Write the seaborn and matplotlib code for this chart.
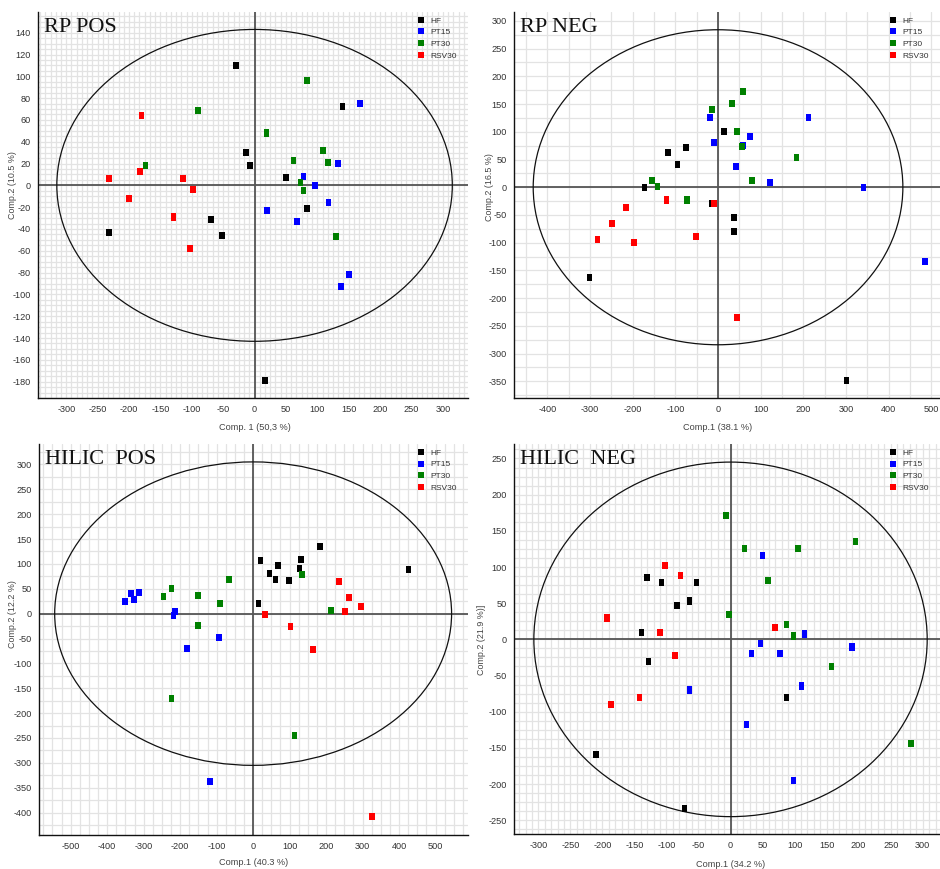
import numpy as np
import pandas as pd
import matplotlib
matplotlib.use("Agg")
import matplotlib.pyplot as plt
from matplotlib.patches import Ellipse
from matplotlib.lines import Line2D
from matplotlib.ticker import MultipleLocator
from matplotlib.transforms import blended_transform_factory
import seaborn as sns

groups = ["HF", "PT15", "PT30", "RSV30"]
group_colors = ["#000000", "#0000ff", "#008000", "#ff0000"]

# ---- RP POS score values (Comp.1, Comp.2) ----
rp_pos_hf_x = [-30, -14, -7.5, 50, 140, 83, -69, -52, -232, 17]
rp_pos_hf_y = [110, 30, 18, 7, 72, -21, -31, -46, -43, -179]
rp_pos_pt15_x = [168, 133, 78, 96, 118, 20, 68, 150, 138]
rp_pos_pt15_y = [75, 20, 8.5, 0.3, -16, -23, -33, -82, -93]
rp_pos_pt30_x = [-90, -174, 84, 19, 109, 62, 117, 73, 78, 130]
rp_pos_pt30_y = [69, 18.6, 96, 48, 32, 23, 21, 2.4, -5, -47]
rp_pos_rsv30_x = [-180, -182, -232, -114, -98, -200, -129, -103]
rp_pos_rsv30_y = [64, 13, 6, 6, -4, -12, -29, -58]

# ---- RP NEG score values ----
rp_neg_hf_x = [-118, -75, -95, -172, -301, 14, -14, 38, 38, 301]
rp_neg_hf_y = [63, 72, 41, -1, -162, 101, -30, -55, -80, -348]
rp_neg_pt15_x = [-19, 212, 75, -9, 59, 42, 122, 341, 485]
rp_neg_pt15_y = [125, 126, 92, 80, 75, 37, 8, -1, -134]
rp_neg_pt30_x = [-155, -142, -72, 59, 32, -14, 45, 56, 184, 80]
rp_neg_pt30_y = [12, 0.6, -23, 173, 151, 140, 101, 74, 53, 13]
rp_neg_rsv30_x = [-121, -215, -248, -282, -197, -52, -9, 45]
rp_neg_rsv30_y = [-23, -37, -65, -94, -100, -89, -29, -235]

# ---- HILIC POS score values ----
hilic_pos_hf_x = [20, 69, 44.5, 61, 99, 132, 127, 184, 426, 14.5]
hilic_pos_hf_y = [107, 97, 81, 69, 67, 109, 91, 135, 89, 21]
hilic_pos_pt15_x = [-352, -335, -327, -313, -215, -218, -94, -182, -118]
hilic_pos_pt15_y = [25, 41, 28, 43, 5, -4, -48, -70, -337]
hilic_pos_pt30_x = [-246, -224, -152, -152, -91, -66, -224, 134.5, 214, 113]
hilic_pos_pt30_y = [35, 51, 37, -23, 21, 69, -170, 79, 7, -245]
hilic_pos_rsv30_x = [32, 235, 263, 295, 252, 102, 164.5, 325]
hilic_pos_rsv30_y = [-1, 65, 33, 15, 4, -25, -72, -407]

# ---- HILIC NEG score values ----
hilic_neg_hf_x = [-130, -108, -53, -84, -64, -139, -128, -210, -72, 87.5]
hilic_neg_hf_y = [85, 79, 78, 47, 53, 9, -30, -158.5, -234, -80]
hilic_neg_pt15_x = [-64, 50, 115.5, 47, 33, 77, 190, 111, 25, 98.4]
hilic_neg_pt15_y = [-70, 116, 7.4, -5.5, -20, -19, -10.6, -64.5, -118, -194.5]
hilic_neg_pt30_x = [-7, 195, 22, 105, 58, -2.6, 87.5, 98.4, 157.5, 282]
hilic_neg_pt30_y = [171, 135.5, 125, 125, 81, 34, 20, 4.6, -38, -144]
hilic_neg_rsv30_x = [-102, -78, -193, -110, -87, -142, -187, 69]
hilic_neg_rsv30_y = [102, 88, 29.5, 10, -22, -80, -90, 17]

# Hotelling T2 (95 %) ellipse semi-axes per model
rp_pos_t2 = [315, 143]
rp_neg_t2 = [433, 284]
hilic_pos_t2 = [544, 305]
hilic_neg_t2 = [307, 245]


def scores_frame(series):
    rows = []
    for g, (xs, ys) in zip(groups, series):
        for x, y in zip(xs, ys):
            rows.append({"t1": x, "t2": y, "group": g})
    return pd.DataFrame(rows)


panels = [
    dict(title="RP POS",
         df=scores_frame([(rp_pos_hf_x, rp_pos_hf_y), (rp_pos_pt15_x, rp_pos_pt15_y),
                          (rp_pos_pt30_x, rp_pos_pt30_y), (rp_pos_rsv30_x, rp_pos_rsv30_y)]),
         t2=rp_pos_t2, xlabel="Comp. 1 (50,3 %)", ylabel="Comp.2 (10.5 %)",
         rect=[38, 12, 468, 398], xlim=(-345, 340), ylim=(-195, 159),
         xmaj=50, xmin=25, ymaj=20, ymin=10, xgrid=50 / 6, ygrid=5,
         ylab_px=17, xlab_px=423),
    dict(title="RP NEG",
         df=scores_frame([(rp_neg_hf_x, rp_neg_hf_y), (rp_neg_pt15_x, rp_neg_pt15_y),
                          (rp_neg_pt30_x, rp_neg_pt30_y), (rp_neg_rsv30_x, rp_neg_rsv30_y)]),
         t2=rp_neg_t2, xlabel="Comp.1 (38.1 %)", ylabel="Comp.2 (16.5 %)",
         rect=[514, 12, 940, 398], xlim=(-478, 520), ylim=(-380, 316),
         xmaj=100, xmin=50, ymaj=50, ymin=25, xgrid=50, ygrid=25,
         ylab_px=494, xlab_px=423),
    dict(title="HILIC  POS",
         df=scores_frame([(hilic_pos_hf_x, hilic_pos_hf_y), (hilic_pos_pt15_x, hilic_pos_pt15_y),
                          (hilic_pos_pt30_x, hilic_pos_pt30_y), (hilic_pos_rsv30_x, hilic_pos_rsv30_y)]),
         t2=hilic_pos_t2, xlabel="Comp.1 (40.3 %)", ylabel="Comp.2 (12.2 %)",
         rect=[39, 444, 468, 835], xlim=(-587, 589), ylim=(-445, 341),
         xmaj=100, xmin=50, ymaj=50, ymin=25, xgrid=25, ygrid=25,
         ylab_px=17, xlab_px=858),
    dict(title="HILIC  NEG",
         df=scores_frame([(hilic_neg_hf_x, hilic_neg_hf_y), (hilic_neg_pt15_x, hilic_neg_pt15_y),
                          (hilic_neg_pt30_x, hilic_neg_pt30_y), (hilic_neg_rsv30_x, hilic_neg_rsv30_y)]),
         t2=hilic_neg_t2, xlabel="Comp.1 (34.2 %)", ylabel="Comp.2 (21.9 %)]",
         rect=[514, 444, 940, 834], xlim=(-338, 327), ylim=(-269, 270),
         xmaj=50, xmin=25, ymaj=50, ymin=25, xgrid=10, ygrid=12.5,
         ylab_px=486, xlab_px=860),
]

sns.set_style("white")
plt.rcParams["font.family"] = ["Liberation Sans", "DejaVu Sans"]
plt.rcParams["axes.unicode_minus"] = False

W, H = 940, 869
fig = plt.figure(figsize=(W / 100, H / 100), dpi=100)

# tall rectangle marker used for the score points
rect_marker = [(-0.4, -0.5), (0.4, -0.5), (0.4, 0.5), (-0.4, 0.5), (-0.4, -0.5)]
palette = dict(zip(groups, group_colors))

for p in panels:
    l, t, r, b = p["rect"]
    wpx, hpx = r - l, b - t
    ax = fig.add_axes([l / W, 1 - b / H, wpx / W, hpx / H])
    ax.set_xlim(*p["xlim"])
    ax.set_ylim(*p["ylim"])

    # light background grid
    gx = np.arange(np.ceil(p["xlim"][0] / p["xgrid"]) * p["xgrid"], p["xlim"][1], p["xgrid"])
    gy = np.arange(np.ceil(p["ylim"][0] / p["ygrid"]) * p["ygrid"], p["ylim"][1], p["ygrid"])
    for v in gx:
        ax.axvline(v, color="#e3e3e3", lw=0.9, zorder=0)
    for v in gy:
        ax.axhline(v, color="#e3e3e3", lw=0.9, zorder=0)

    ax.axhline(0, color="#555555", lw=1.3, zorder=1)
    ax.axvline(0, color="#555555", lw=1.3, zorder=1)

    a, bb = p["t2"]
    ax.add_patch(Ellipse((0, 0), 2 * a, 2 * bb, fill=False, ec="#111111", lw=0.9, zorder=2))

    sns.scatterplot(data=p["df"], x="t1", y="t2", hue="group", hue_order=groups,
                    palette=palette, marker=rect_marker, s=26, linewidth=0,
                    legend=False, ax=ax, zorder=3)

    for side in ["top", "right"]:
        ax.spines[side].set_visible(False)
    for side in ["left", "bottom"]:
        ax.spines[side].set_color("#111111")
        ax.spines[side].set_linewidth(1.0)

    ax.xaxis.set_major_locator(MultipleLocator(p["xmaj"]))
    ax.xaxis.set_minor_locator(MultipleLocator(p["xmin"]))
    ax.yaxis.set_major_locator(MultipleLocator(p["ymaj"]))
    ax.yaxis.set_minor_locator(MultipleLocator(p["ymin"]))
    ax.tick_params(which="major", direction="inout", length=5, width=0.9,
                   labelsize=6.6, labelcolor="#333333", color="#111111", pad=2.5)
    ax.tick_params(which="minor", direction="inout", length=3, width=0.8, color="#111111")

    # axis titles sit on the origin lines
    ax.set_xlabel(p["xlabel"], fontsize=6.6, color="#444444")
    ax.set_ylabel(p["ylabel"], fontsize=6.4, color="#444444")
    ax.yaxis.set_label_coords((p["ylab_px"] - l) / wpx, 0,
                              transform=blended_transform_factory(ax.transAxes, ax.transData))
    ax.xaxis.set_label_coords(0, -(p["xlab_px"] - b) / hpx,
                              transform=blended_transform_factory(ax.transData, ax.transAxes))

    ax.text(0.015, 0.985, p["title"], transform=ax.transAxes, ha="left", va="top",
            fontsize=16, family="Liberation Serif", color="#111111")

    handles = [Line2D([0], [0], marker="s", linestyle="none", markersize=4,
                      markerfacecolor=c, markeredgewidth=0) for c in group_colors]
    leg = ax.legend(handles, groups, loc="upper right", bbox_to_anchor=(0.985, 1.0),
                    frameon=False, fontsize=6, handlelength=1.0, handletextpad=0.6,
                    labelspacing=0.45, borderaxespad=0.2)
    for txt in leg.get_texts():
        txt.set_color("#333333")

fig.savefig("out.png", dpi=100)
